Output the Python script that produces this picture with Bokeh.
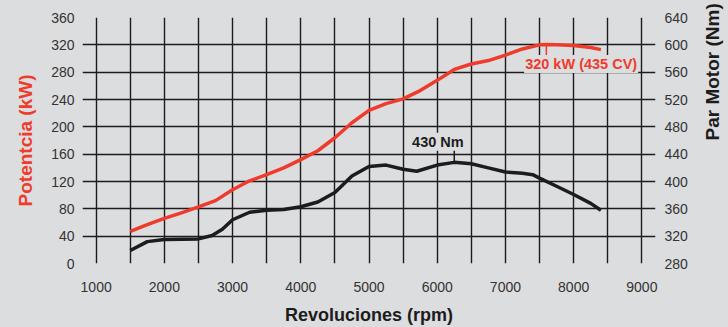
import math
from bokeh.plotting import figure
from bokeh.models import Range1d, LinearAxis, FixedTicker, Label
from bokeh.embed import file_html
from bokeh.resources import INLINE

# ---- data ----
rpm_power = [1500, 1750, 2000, 2250, 2500, 2750, 3000, 3250, 3500, 3750, 4000, 4250,
             4500, 4750, 5000, 5250, 5500, 5750, 6000, 6250, 6500, 6750, 7000, 7250,
             7500, 7600, 7750, 8000, 8250, 8400]
power_kw = [47, 57, 66, 74, 83, 92, 108, 121, 130, 140, 152, 165,
            184, 206, 224, 234, 241, 253, 268, 284, 292, 297, 305, 314,
            320, 320.5, 320, 319, 316, 313]

rpm_torque = [1500, 1750, 2000, 2250, 2500, 2700, 2850, 3000, 3250, 3500, 3750, 4000,
              4250, 4500, 4750, 5000, 5250, 5500, 5700, 6000, 6250, 6500, 6750, 7000,
              7250, 7400, 7500, 7750, 8000, 8250, 8400]
torque_nm = [299, 312, 315, 315.5, 316, 321, 330, 344, 355, 358, 359, 363,
             370, 384, 408, 422, 424, 418, 415, 424, 428, 426, 420, 414,
             412, 410, 405, 393, 381, 368, 358]

x_ticks = [1000, 2000, 3000, 4000, 5000, 6000, 7000, 8000, 9000]
x_grid = [1000, 1500, 2000, 2500, 3000, 3500, 4000, 4500, 5000, 5500, 6000, 6500,
          7000, 7500, 8000, 8500, 9000]
kw_ticks = [0, 40, 80, 120, 160, 200, 240, 280, 320, 360]
nm_ticks = [280, 320, 360, 400, 440, 480, 520, 560, 600, 640]

power_note = "320 kW (435 CV)"
torque_note = "430 Nm"
right_title = "Par Motor (Nm)"

BG = "#dcdddf"
RED = "#ef3b2c"
INK = "#1c1c1c"
TICK_FONT = "Liberation Sans"
TITLE_FONT = "Liberation Sans"

# the right-hand title touches the page edge in the reference; the extra
# few pixels of border beyond the 728px window are hidden (overflow hidden)
p = figure(width=739, height=327, output_backend="svg", toolbar_location=None,
           x_range=Range1d(800, 9200), y_range=Range1d(0, 360),
           min_border_left=82, min_border_right=84, min_border_top=17, min_border_bottom=63)
p.background_fill_color = BG
p.border_fill_color = BG
p.outline_line_color = None

p.extra_y_ranges = {"nm": Range1d(280, 640)}

# grid
p.xgrid.ticker = FixedTicker(ticks=x_grid)
p.ygrid.ticker = FixedTicker(ticks=kw_ticks)
for g in (p.xgrid, p.ygrid):
    g.grid_line_color = INK
    g.grid_line_width = 1.4

# axes
def style_axis(ax):
    ax.axis_line_color = None
    ax.major_tick_line_color = None
    ax.minor_tick_line_color = None
    ax.major_tick_out = 0
    ax.major_tick_in = 0
    ax.major_label_text_font = TICK_FONT
    ax.major_label_text_font_size = "14px"
    ax.major_label_text_color = "#333333"

def style_title(ax, text, color, size):
    ax.axis_label = text
    ax.axis_label_text_font = TITLE_FONT
    ax.axis_label_text_font_style = "bold"
    ax.axis_label_text_font_size = size
    ax.axis_label_text_color = color

xa = p.xaxis[0]
style_axis(xa)
xa.ticker = FixedTicker(ticks=x_ticks)
xa.major_label_standoff = 18
style_title(xa, "Revoluciones (rpm)", INK, "18px")
xa.axis_label_standoff = 10

ya = p.yaxis[0]
style_axis(ya)
ya.ticker = FixedTicker(ticks=kw_ticks)
ya.major_label_standoff = 8
style_title(ya, "Potentcia (kW)", RED, "19px")
ya.axis_label_standoff = 12

ra = LinearAxis(y_range_name="nm", ticker=FixedTicker(ticks=nm_ticks))
style_axis(ra)
ra.major_label_standoff = 9
if "axis_label_orientation" in ra.properties():
    style_title(ra, right_title, INK, "19px")
    ra.axis_label_orientation = math.pi / 2
    ra.axis_label_standoff = 22
else:
    p.add_layout(Label(x=719, y=140, x_units="screen", y_units="screen", text=right_title,
                       angle=math.pi / 2, text_align="center", text_baseline="middle",
                       text_font=TITLE_FONT, text_font_style="bold", text_font_size="19px",
                       text_color=INK))
p.add_layout(ra, "right")

# curves
p.line(rpm_power, power_kw, line_color=RED, line_width=3.5)
p.line(rpm_torque, torque_nm, line_color=INK, line_width=3.5, y_range_name="nm")

# peak markers
ip = max(range(len(power_kw)), key=lambda i: power_kw[i])
it = max(range(len(torque_nm)), key=lambda i: torque_nm[i])
p.segment(x0=[rpm_power[ip]], y0=[power_kw[ip]], x1=[rpm_power[ip]], y1=[power_kw[ip] - 16],
          line_color=RED, line_width=1.5)
p.segment(x0=[rpm_torque[it]], y0=[torque_nm[it]], x1=[rpm_torque[it]], y1=[torque_nm[it] + 18],
          line_color=INK, line_width=1.5, y_range_name="nm")

p.add_layout(Label(x=8110, y=292, text=power_note, text_align="center", text_baseline="middle",
                   text_font=TITLE_FONT, text_font_style="bold", text_font_size="14.5px",
                   text_color=RED, background_fill_color=BG,
                   padding=1))
p.add_layout(Label(x=6010, y=458, y_range_name="nm", text=torque_note, text_align="center",
                   text_baseline="middle", text_font=TITLE_FONT, text_font_style="bold",
                   text_font_size="14.5px", text_color=INK, background_fill_color=BG,
                   padding=1))

html = file_html(p, INLINE)
html = html.replace("<head>", "<head><style>html,body{background:%s;margin:0;padding:0;overflow:hidden;}</style>" % BG, 1)
open("out.html", "w").write(html)
